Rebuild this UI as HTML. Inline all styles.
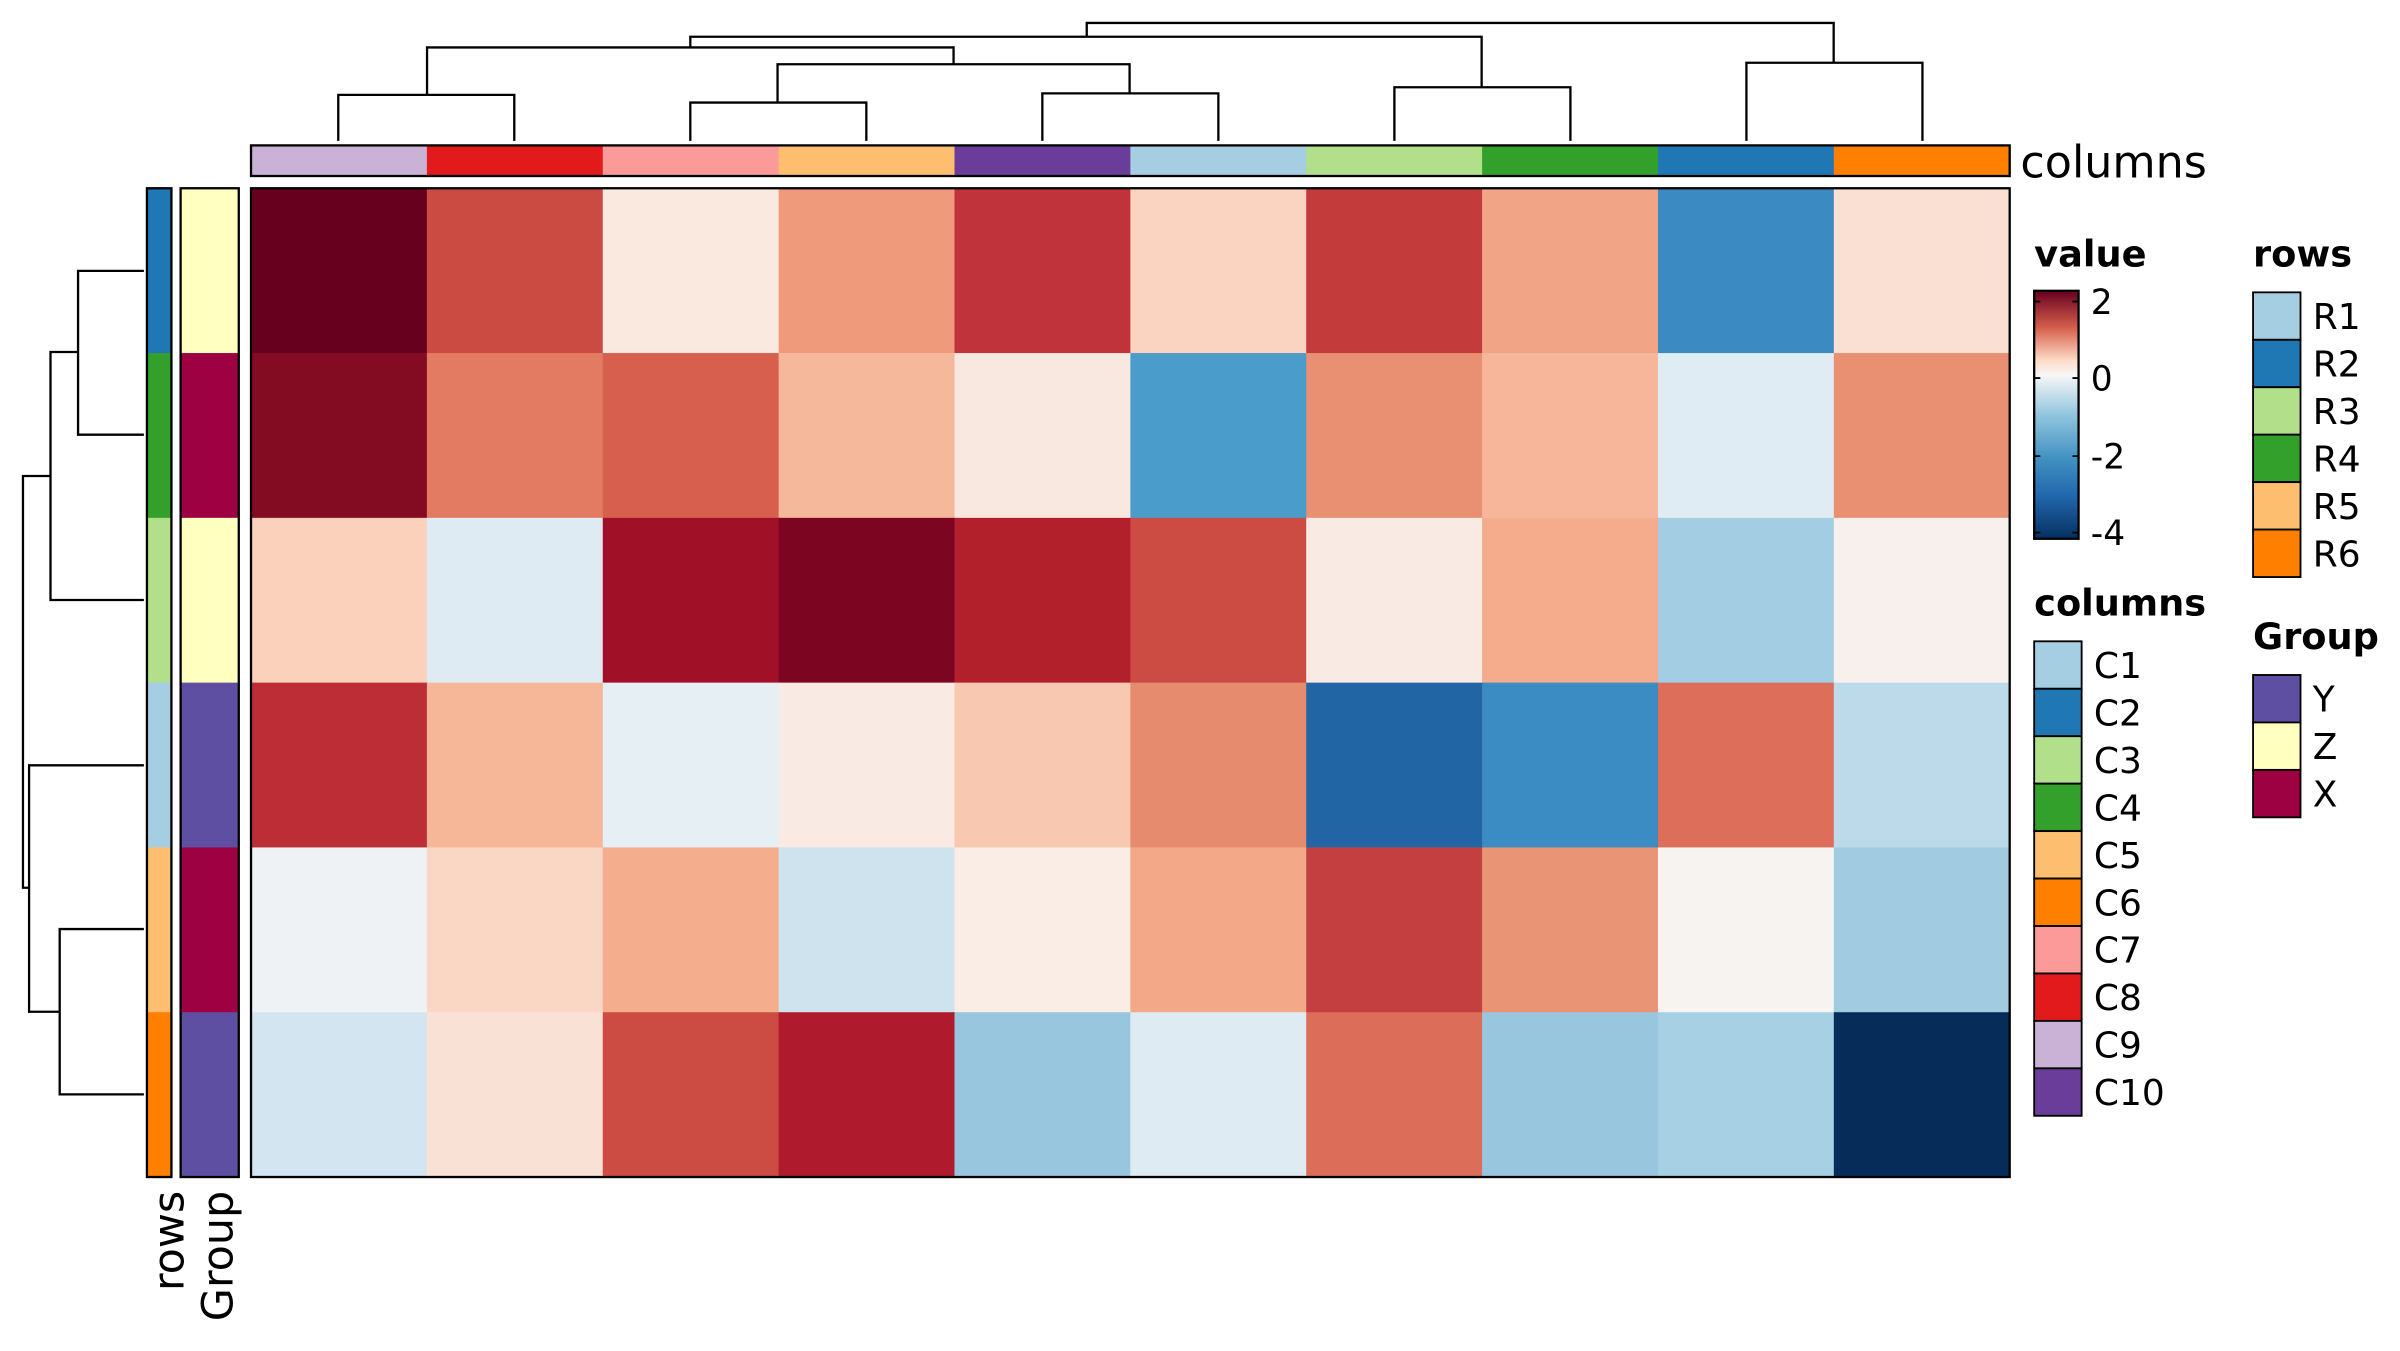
<!DOCTYPE html>
<html><head><meta charset="utf-8"><style>
html,body{margin:0;padding:0;background:#fff;}
svg{display:block;}
text{font-family:"DejaVu Sans","Liberation Sans",sans-serif;fill:#000;}
</style></head><body>
<svg width="2400" height="1351" viewBox="0 0 1568 882.67" preserveAspectRatio="none" xmlns="http://www.w3.org/2000/svg">
<rect width="1568" height="883" fill="#fff"/>
<g>
<rect x="164" y="123" width="115.5" height="108.2" fill="#67001f"/><rect x="278.9" y="123" width="115.5" height="108.2" fill="#cb4a42"/><rect x="393.8" y="123" width="115.5" height="108.2" fill="#fae9df"/><rect x="508.7" y="123" width="115.5" height="108.2" fill="#ef9a7a"/><rect x="623.6" y="123" width="115.5" height="108.2" fill="#c0333a"/><rect x="738.5" y="123" width="115.5" height="108.2" fill="#fad4c0"/><rect x="853.4" y="123" width="115.5" height="108.2" fill="#c43b3c"/><rect x="968.3" y="123" width="115.5" height="108.2" fill="#f2a586"/><rect x="1083.2" y="123" width="115.5" height="108.2" fill="#3b8bc2"/><rect x="1198.1" y="123" width="115" height="108.2" fill="#f9e0d3"/>
<rect x="164" y="230.67" width="115.5" height="108.2" fill="#830b22"/><rect x="278.9" y="230.67" width="115.5" height="108.2" fill="#e27b62"/><rect x="393.8" y="230.67" width="115.5" height="108.2" fill="#d6604d"/><rect x="508.7" y="230.67" width="115.5" height="108.2" fill="#f6b89a"/><rect x="623.6" y="230.67" width="115.5" height="108.2" fill="#f9e8e0"/><rect x="738.5" y="230.67" width="115.5" height="108.2" fill="#4a9ccb"/><rect x="853.4" y="230.67" width="115.5" height="108.2" fill="#e99073"/><rect x="968.3" y="230.67" width="115.5" height="108.2" fill="#f7b59a"/><rect x="1083.2" y="230.67" width="115.5" height="108.2" fill="#e0ecf3"/><rect x="1198.1" y="230.67" width="115" height="108.2" fill="#e99073"/>
<rect x="164" y="338.33" width="115.5" height="108.2" fill="#fbd1bc"/><rect x="278.9" y="338.33" width="115.5" height="108.2" fill="#deebf2"/><rect x="393.8" y="338.33" width="115.5" height="108.2" fill="#a01128"/><rect x="508.7" y="338.33" width="115.5" height="108.2" fill="#7c0522"/><rect x="623.6" y="338.33" width="115.5" height="108.2" fill="#b2202c"/><rect x="738.5" y="338.33" width="115.5" height="108.2" fill="#cc4c44"/><rect x="853.4" y="338.33" width="115.5" height="108.2" fill="#f9ebe4"/><rect x="968.3" y="338.33" width="115.5" height="108.2" fill="#f4ac8c"/><rect x="1083.2" y="338.33" width="115.5" height="108.2" fill="#a2cde2"/><rect x="1198.1" y="338.33" width="115" height="108.2" fill="#f7f0ed"/>
<rect x="164" y="446" width="115.5" height="108.2" fill="#bd2d35"/><rect x="278.9" y="446" width="115.5" height="108.2" fill="#f6b798"/><rect x="393.8" y="446" width="115.5" height="108.2" fill="#e6eff4"/><rect x="508.7" y="446" width="115.5" height="108.2" fill="#f9ebe4"/><rect x="623.6" y="446" width="115.5" height="108.2" fill="#f8c8b0"/><rect x="738.5" y="446" width="115.5" height="108.2" fill="#e78b6e"/><rect x="853.4" y="446" width="115.5" height="108.2" fill="#2265a4"/><rect x="968.3" y="446" width="115.5" height="108.2" fill="#3a8cc2"/><rect x="1083.2" y="446" width="115.5" height="108.2" fill="#dd6f5a"/><rect x="1198.1" y="446" width="115" height="108.2" fill="#bcdaea"/>
<rect x="164" y="553.67" width="115.5" height="108.2" fill="#eef2f5"/><rect x="278.9" y="553.67" width="115.5" height="108.2" fill="#fad6c4"/><rect x="393.8" y="553.67" width="115.5" height="108.2" fill="#f4ae8d"/><rect x="508.7" y="553.67" width="115.5" height="108.2" fill="#cfe3ef"/><rect x="623.6" y="553.67" width="115.5" height="108.2" fill="#f9ede6"/><rect x="738.5" y="553.67" width="115.5" height="108.2" fill="#f3a987"/><rect x="853.4" y="553.67" width="115.5" height="108.2" fill="#c43f3f"/><rect x="968.3" y="553.67" width="115.5" height="108.2" fill="#e99474"/><rect x="1083.2" y="553.67" width="115.5" height="108.2" fill="#f6f3f1"/><rect x="1198.1" y="553.67" width="115" height="108.2" fill="#a0cbe1"/>
<rect x="164" y="661.33" width="115.5" height="107.7" fill="#d3e5f0"/><rect x="278.9" y="661.33" width="115.5" height="107.7" fill="#fae1d6"/><rect x="393.8" y="661.33" width="115.5" height="107.7" fill="#cc4c44"/><rect x="508.7" y="661.33" width="115.5" height="107.7" fill="#af1a2c"/><rect x="623.6" y="661.33" width="115.5" height="107.7" fill="#98c6df"/><rect x="738.5" y="661.33" width="115.5" height="107.7" fill="#deebf2"/><rect x="853.4" y="661.33" width="115.5" height="107.7" fill="#dc6d58"/><rect x="968.3" y="661.33" width="115.5" height="107.7" fill="#98c6df"/><rect x="1083.2" y="661.33" width="115.5" height="107.7" fill="#a8d0e4"/><rect x="1198.1" y="661.33" width="115" height="107.7" fill="#062c5a"/>
</g>
<g>
<rect x="164" y="95" width="115.5" height="20" fill="#cab2d6"/><rect x="278.9" y="95" width="115.5" height="20" fill="#e31a1c"/><rect x="393.8" y="95" width="115.5" height="20" fill="#fb9a99"/><rect x="508.7" y="95" width="115.5" height="20" fill="#fdbf6f"/><rect x="623.6" y="95" width="115.5" height="20" fill="#6a3d9a"/><rect x="738.5" y="95" width="115.5" height="20" fill="#a6cee3"/><rect x="853.4" y="95" width="115.5" height="20" fill="#b2df8a"/><rect x="968.3" y="95" width="115.5" height="20" fill="#33a02c"/><rect x="1083.2" y="95" width="115.5" height="20" fill="#1f78b4"/><rect x="1198.1" y="95" width="115" height="20" fill="#ff7f00"/>
</g>
<g>
<rect x="96" y="123" width="16" height="108.2" fill="#1f78b4"/><rect x="96" y="230.67" width="16" height="108.2" fill="#33a02c"/><rect x="96" y="338.33" width="16" height="108.2" fill="#b2df8a"/><rect x="96" y="446" width="16" height="108.2" fill="#a6cee3"/><rect x="96" y="553.67" width="16" height="108.2" fill="#fdbf6f"/><rect x="96" y="661.33" width="16" height="107.7" fill="#ff7f00"/>
<rect x="118" y="123" width="38" height="108.2" fill="#ffffc0"/><rect x="118" y="230.67" width="38" height="108.2" fill="#9e0142"/><rect x="118" y="338.33" width="38" height="108.2" fill="#ffffc0"/><rect x="118" y="446" width="38" height="108.2" fill="#5e4fa2"/><rect x="118" y="553.67" width="38" height="108.2" fill="#9e0142"/><rect x="118" y="661.33" width="38" height="107.7" fill="#5e4fa2"/>
</g>
<g fill="none" stroke="#000" stroke-width="1.5">
<rect x="164" y="123" width="1149" height="646"/>
<rect x="164" y="95" width="1149" height="20"/>
<rect x="96" y="123" width="16" height="646"/>
<rect x="118" y="123" width="38" height="646"/>
<path d="M221,92V62H336V92 M451,92V67H566V92 M681,92V61H796V92 M508,67V42H738V61 M279,62V31H623V42 M911,92V57H1026V92 M1141,92V41H1256V92 M451,31V24H968V57 M710,24V15H1198V41"/>
<path d="M94,177H51V284H94 M51,230H33V392H94 M94,607H39V715H94 M94,500H19V661H39 M33,311H15V580H19"/>
</g>
<text x="1320" y="116" font-size="29">columns</text>
<text x="120" y="778" font-size="28" transform="rotate(-90 120 778)" text-anchor="end">rows</text>
<text x="152" y="778" font-size="28" transform="rotate(-90 152 778)" text-anchor="end">Group</text>
<text x="1329" y="174" font-size="24" font-weight="bold">value</text>
<defs><linearGradient id="g" x1="0" y1="0" x2="0" y2="1">
<stop offset="0" stop-color="#67001f"/><stop offset="0.15" stop-color="#d6604d"/><stop offset="0.28" stop-color="#fddbc7"/><stop offset="0.34" stop-color="#f7f7f7"/><stop offset="0.5" stop-color="#92c5de"/><stop offset="0.67" stop-color="#4393c3"/><stop offset="0.83" stop-color="#2166ac"/><stop offset="1" stop-color="#053061"/></linearGradient></defs>
<rect x="1329" y="190" width="29" height="162" fill="url(#g)" stroke="#000" stroke-width="1.5"/>
<g stroke="#000" stroke-width="1.2"><path d="M1329,197h4M1354,197h4M1329,247h4M1354,247h4M1329,298h4M1354,298h4M1329,348h4M1354,348h4"/></g>
<g font-size="22.5">
<text x="1366" y="205">2</text>
<text x="1366" y="255">0</text>
<text x="1366" y="306">-2</text>
<text x="1366" y="356">-4</text>
</g>
<text x="1329" y="402" font-size="24" font-weight="bold">columns</text>
<text x="1472" y="174" font-size="24" font-weight="bold">rows</text>
<text x="1472" y="424" font-size="24" font-weight="bold">Group</text>
<g stroke="#000" stroke-width="1.2">
<rect x="1329" y="419" width="31" height="31" fill="#a6cee3"/><rect x="1329" y="450" width="31" height="31" fill="#1f78b4"/><rect x="1329" y="481" width="31" height="31" fill="#b2df8a"/><rect x="1329" y="512" width="31" height="31" fill="#33a02c"/><rect x="1329" y="543" width="31" height="31" fill="#fdbf6f"/><rect x="1329" y="574" width="31" height="31" fill="#ff7f00"/><rect x="1329" y="605" width="31" height="31" fill="#fb9a99"/><rect x="1329" y="636" width="31" height="31" fill="#e31a1c"/><rect x="1329" y="667" width="31" height="31" fill="#cab2d6"/><rect x="1329" y="698" width="31" height="31" fill="#6a3d9a"/>
<rect x="1472" y="191" width="31" height="31" fill="#a6cee3"/><rect x="1472" y="222" width="31" height="31" fill="#1f78b4"/><rect x="1472" y="253" width="31" height="31" fill="#b2df8a"/><rect x="1472" y="284" width="31" height="31" fill="#33a02c"/><rect x="1472" y="315" width="31" height="31" fill="#fdbf6f"/><rect x="1472" y="346" width="31" height="31" fill="#ff7f00"/>
<rect x="1472" y="441" width="31" height="31" fill="#5e4fa2"/><rect x="1472" y="472" width="31" height="31" fill="#ffffc0"/><rect x="1472" y="503" width="31" height="31" fill="#9e0142"/>
</g>
<g font-size="23.5">
<text x="1368" y="443">C1</text><text x="1368" y="474">C2</text><text x="1368" y="505">C3</text><text x="1368" y="536">C4</text><text x="1368" y="567">C5</text><text x="1368" y="598">C6</text><text x="1368" y="629">C7</text><text x="1368" y="660">C8</text><text x="1368" y="691">C9</text><text x="1368" y="722">C10</text>
<text x="1511" y="215">R1</text><text x="1511" y="246">R2</text><text x="1511" y="277">R3</text><text x="1511" y="308">R4</text><text x="1511" y="339">R5</text><text x="1511" y="370">R6</text>
<text x="1511" y="465">Y</text><text x="1511" y="496">Z</text><text x="1511" y="527">X</text>
</g>
</svg>
</body></html>
